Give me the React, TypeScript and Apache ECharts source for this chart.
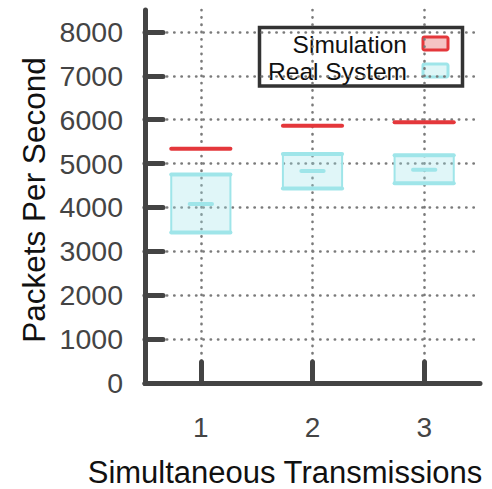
import React, { useEffect, useRef } from "react";
import * as echarts from "echarts";

const xValues = [1, 2, 3];
const xLabels = ["1", "2", "3"];
const simulation = [5340, 5860, 5940];
const realLow = [3430, 4430, 4550];
const realMedian = [4080, 4830, 4860];
const realHigh = [4750, 5220, 5190];
const yTicks = [0, 1000, 2000, 3000, 4000, 5000, 6000, 7000, 8000];
const seriesNames = ["Simulation", "Real System"];

const FONT = "'Liberation Sans', Arial, Helvetica, sans-serif";
const AXIS_COLOR = "#444444";
const RED = "#e4373b";
const RED_FILL = "#f5c4c4";
const CYAN = "#9fe5e9";
const CYAN_FILL = "rgba(160, 228, 233, 0.32)";

export default function App() {
  const ref = useRef<HTMLDivElement>(null);

  useEffect(() => {
    if (!ref.current) return;
    const chart = echarts.init(ref.current, null, { renderer: "svg" });

    const gridStyle = { color: "#7a7a7a", width: 2.6, type: [0.3, 7], cap: "round" };

    const option: any = {
      animation: false,
      backgroundColor: "#ffffff",
      grid: { left: 145, right: 12, top: 10, bottom: 106, containLabel: false },
      xAxis: {
        type: "value",
        min: 0.5,
        max: 3.5,
        axisLine: { show: true, onZero: false, lineStyle: { color: AXIS_COLOR, width: 5, cap: "round" } },
        axisTick: {
          show: true,
          inside: true,
          length: 21,
          customValues: xValues,
          lineStyle: { color: AXIS_COLOR, width: 5, cap: "round" },
        },
        axisLabel: {
          show: true,
          customValues: xValues,
          formatter: (v: number) => xLabels[xValues.indexOf(v)] ?? "",
          color: AXIS_COLOR,
          fontSize: 28,
          fontFamily: FONT,
          margin: 30,
        },
        splitLine: { show: true, showMinLine: true, showMaxLine: true, lineStyle: gridStyle },
      },
      yAxis: {
        type: "value",
        min: 0,
        max: 8500,
        axisLine: { show: true, lineStyle: { color: AXIS_COLOR, width: 5, cap: "round" } },
        axisTick: {
          show: true,
          inside: true,
          length: 18,
          customValues: yTicks,
          lineStyle: { color: AXIS_COLOR, width: 5, cap: "round" },
        },
        axisLabel: {
          show: true,
          customValues: yTicks,
          formatter: (v: number) => String(v),
          color: AXIS_COLOR,
          fontSize: 28.5,
          fontFamily: FONT,
          margin: 22,
        },
        splitLine: { show: true, showMinLine: false, showMaxLine: true, lineStyle: gridStyle },
      },
      series: [
        {
          name: seriesNames[1],
          type: "custom",
          data: xValues.map((x, i) => [x, realLow[i], realMedian[i], realHigh[i]]),
          renderItem: (_params: any, api: any) => {
            const x = api.value(0);
            const lo = api.coord([x, api.value(1)]);
            const med = api.coord([x, api.value(2)]);
            const hi = api.coord([x, api.value(3)]);
            const w = api.size([1, 0])[0];
            const hw = w * 0.265;
            const mw = w * 0.1;
            const cx = lo[0];
            return {
              type: "group",
              children: [
                {
                  type: "rect",
                  shape: { x: cx - hw, y: hi[1], width: 2 * hw, height: lo[1] - hi[1] },
                  style: { fill: CYAN_FILL, stroke: CYAN, lineWidth: 2 },
                },
                {
                  type: "line",
                  shape: { x1: cx - hw, y1: hi[1], x2: cx + hw, y2: hi[1] },
                  style: { stroke: CYAN, lineWidth: 4, lineCap: "round" },
                },
                {
                  type: "line",
                  shape: { x1: cx - hw, y1: lo[1], x2: cx + hw, y2: lo[1] },
                  style: { stroke: CYAN, lineWidth: 4, lineCap: "round" },
                },
                {
                  type: "line",
                  shape: { x1: cx - mw, y1: med[1], x2: cx + mw, y2: med[1] },
                  style: { stroke: CYAN, lineWidth: 4, lineCap: "round" },
                },
              ],
            };
          },
          z: 3,
        },
        {
          name: seriesNames[0],
          type: "custom",
          data: xValues.map((x, i) => [x, simulation[i]]),
          renderItem: (_params: any, api: any) => {
            const x = api.value(0);
            const p = api.coord([x, api.value(1)]);
            const w = api.size([1, 0])[0];
            const hw = w * 0.265;
            return {
              type: "line",
              shape: { x1: p[0] - hw, y1: p[1], x2: p[0] + hw, y2: p[1] },
              style: { stroke: RED, lineWidth: 4, lineCap: "round" },
            };
          },
          z: 4,
        },
      ],
      graphic: [
        {
          type: "text",
          x: 34,
          y: 200,
          rotation: Math.PI / 2,
          style: {
            text: "Packets Per Second",
            fontSize: 31.5,
            fontFamily: FONT,
            fill: "#111111",
            align: "center",
            verticalAlign: "middle",
          },
        },
        {
          type: "text",
          x: 285,
          y: 472,
          style: {
            text: "Simultaneous Transmissions",
            fontSize: 31,
            fontFamily: FONT,
            fill: "#111111",
            align: "center",
            verticalAlign: "middle",
          },
        },
        {
          type: "group",
          z: 100,
          children: [
            {
              type: "rect",
              shape: { x: 259.5, y: 27.5, width: 203, height: 58.5 },
              style: { fill: "#ffffff", stroke: "#333333", lineWidth: 3.5 },
            },
            {
              type: "text",
              x: 407,
              y: 44,
              style: {
                text: seriesNames[0],
                fontSize: 24.5,
                fontFamily: FONT,
                fill: "#111111",
                align: "right",
                verticalAlign: "middle",
              },
            },
            {
              type: "text",
              x: 407,
              y: 71,
              style: {
                text: seriesNames[1],
                fontSize: 24.5,
                fontFamily: FONT,
                fill: "#111111",
                align: "right",
                verticalAlign: "middle",
              },
            },
            {
              type: "rect",
              shape: { x: 423, y: 37, width: 25, height: 13, r: 1.5 },
              style: { fill: RED_FILL, stroke: RED, lineWidth: 3 },
            },
            {
              type: "rect",
              shape: { x: 423, y: 64, width: 25, height: 13, r: 1.5 },
              style: { fill: "#dff6f7", stroke: CYAN, lineWidth: 3 },
            },
          ],
        },
      ],
    };

    chart.setOption(option);
    return () => chart.dispose();
  }, []);

  return <div ref={ref} style={{ width: 492, height: 489, position: "absolute", left: 0, top: 0 }} />;
}
